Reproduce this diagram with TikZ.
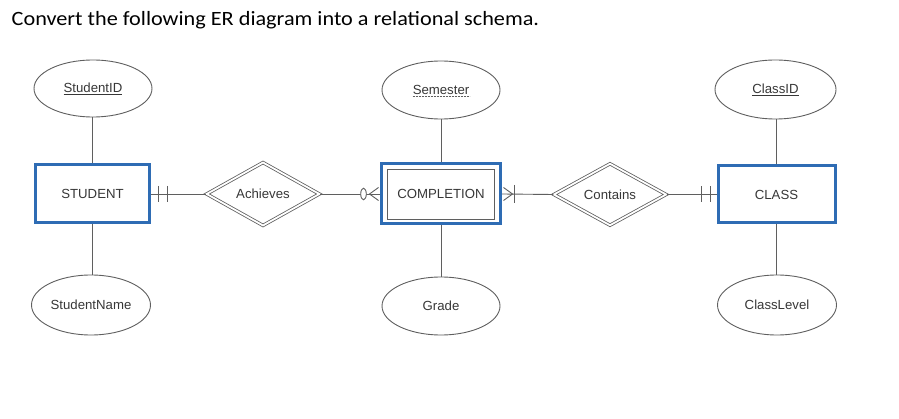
\documentclass[tikz,border=0pt]{standalone}
\usepackage{fontspec}
\setmainfont{Liberation Sans}
\newfontfamily\titlefont{Carlito}
\usetikzlibrary{shapes.geometric,calc}
\definecolor{erblue}{RGB}{46,108,180}
\definecolor{ergray}{RGB}{95,95,95}
\definecolor{ertext}{RGB}{55,55,55}
\begin{document}
\begin{tikzpicture}[x=1pt,y=-1pt,
  lbl/.style={text=ertext,font=\fontsize{13.2}{15}\selectfont},
  entity/.style={lbl,rectangle,draw=erblue,line width=3pt,inner sep=0pt},
  attr/.style={lbl,ellipse,draw=ergray,line width=0.9pt,inner sep=0pt},
  rel/.style={lbl,diamond,draw=ergray,double,double distance=1.8pt,line width=0.8pt,inner sep=0pt},
  conn/.style={draw=ergray,line width=0.9pt}]
\useasboundingbox (0,0) rectangle (899,419);
\fill[white] (0,0) rectangle (899,419);
\node[anchor=base west,inner sep=0pt,font=\titlefont\fontsize{20.3}{24}\selectfont] (title) at (11.5,25.7) {\scalebox{1.095}[1]{Convert the following ER diagram into a relational schema.}};

% entities
\node[entity,minimum width=114,minimum height=58] (student) at (92.5,194) {STUDENT};
\node[entity,minimum width=119,minimum height=60] (comp) at (441,194) {};
\node[lbl,rectangle,draw=ergray,line width=0.9pt,minimum width=107,minimum height=50,inner sep=0pt] (compin) at (comp.center) {COMPLETION};
\node[entity,minimum width=117,minimum height=57] (class) at (776.5,194.5) {CLASS};

% relationships
\node[rel,minimum width=113,minimum height=54.5] (ach) at (263,194) {Achieves};
\node[rel,minimum width=112.5,minimum height=54.5] (cont) at (610,194.5) {Contains};

% attributes
\node[attr,minimum width=118,minimum height=57] (sid) at (93,88.5) {\underline{StudentID}};
\node[attr,minimum width=119,minimum height=60] (sname) at (91,305) {StudentName};
\node[attr,minimum width=118,minimum height=58] (sem) at (441,90) {Semester};
\node[attr,minimum width=118,minimum height=58] (grade) at (441,306) {Grade};
\node[attr,minimum width=121,minimum height=59] (cid) at (775.5,89.5) {\underline{ClassID}};
\node[attr,minimum width=119,minimum height=60] (clevel) at (777,305) {ClassLevel};
\draw[ergray,line width=0.7pt,dash pattern=on 2pt off 1pt] ($(sem.center)+(-28.5,6.5)$) -- ($(sem.center)+(28.5,6.5)$);

% attribute connectors
\draw[conn] (student.north) -- (student.north |- sid.south);
\draw[conn] (student.south) -- (student.south |- sname.north);
\draw[conn] (comp.north) -- (comp.north |- sem.south);
\draw[conn] (comp.south) -- (comp.south |- grade.north);
\draw[conn] (class.north) -- (class.north |- cid.south);
\draw[conn] (class.south) -- (class.south |- clevel.north);

% relationship connectors
\draw[conn] (student.east) -- (ach.west);
\draw[conn] (ach.east) -- (comp.west);
\draw[conn] (comp.east) -- (cont.west);
\draw[conn] (cont.east) -- (class.west);

% STUDENT side: one and only one
\draw[conn] ($(student.east)+(7.2,-8)$) -- ++(0,16);
\draw[conn] ($(student.east)+(16.2,-8)$) -- ++(0,16);
% COMPLETION left: zero or many
\fill[white] ($(comp.west)+(-16.5,0)$) ellipse [x radius=2.8, y radius=5.8];
\draw[conn] ($(comp.west)+(-16.5,0)$) ellipse [x radius=2.8, y radius=5.8];
\draw[conn] ($(comp.west)+(-1.5,-6.5)$) -- ($(comp.west)+(-10.5,0)$) -- ($(comp.west)+(-1.5,6.5)$);
% COMPLETION right: one or many
\draw[conn] ($(comp.east)+(1.5,-6.5)$) -- ($(comp.east)+(10.5,0)$) -- ($(comp.east)+(1.5,6.5)$);
\draw[conn] ($(comp.east)+(12.5,-9)$) -- ++(0,18);
% CLASS side: one and only one
\draw[conn] ($(class.west)+(-15.2,-8)$) -- ++(0,16);
\draw[conn] ($(class.west)+(-6.5,-8)$) -- ++(0,16);
\end{tikzpicture}
\end{document}
